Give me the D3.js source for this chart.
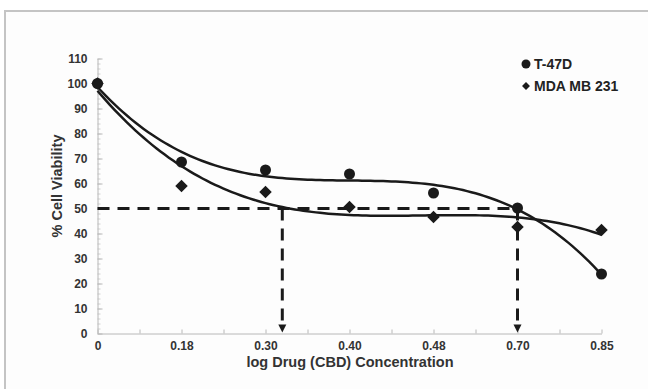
<!DOCTYPE html>
<html>
<head>
<meta charset="utf-8">
<script src="https://cdn.jsdelivr.net/npm/d3@7"></script>
<style>
  body { margin: 0; background: #fff; }
  text { font-family: Arial, "Liberation Sans", sans-serif; font-weight: bold; }
</style>
</head>
<body>
<div id="chart"></div>
<script>
// Categories (x tick labels) and series values
var concLabels = ["0", "0.18", "0.30", "0.40", "0.48", "0.70", "0.85"];
var t47dValues = [100, 68.6, 65.4, 63.8, 56.2, 50.2, 23.8];
var mdaValues = [100, 59, 56.6, 50.6, 46.6, 42.6, 41.4];
var yTicks = [0, 10, 20, 30, 40, 50, 60, 70, 80, 90, 100, 110];
// IC50 guide: 50% level, drops at x (in category index units)
var ic50Level = 50;
var ic50Drops = [2.2, 5.0];

var svgWidth = 648;
var svgHeight = 389;

var svg = d3.select("#chart")
  .append("svg")
  .attr("width", svgWidth)
  .attr("height", svgHeight);

// frame
svg.append("rect")
  .attr("x", 5).attr("y", 11)
  .attr("width", 700).attr("height", 400)
  .attr("fill", "#fdfdfd")
  .attr("stroke", "#c4c4c4")
  .attr("stroke-width", 2);

// scales: x uses category index (Excel style)
var xScale = d3.scaleLinear()
  .domain([0, concLabels.length - 1])
  .range([97.5, 601.5]);

var yScale = d3.scaleLinear()
  .domain([0, 110])
  .range([333.5, 58.5]);

var axisColor = "#b8b8b8";

// x axis
var xAxis = svg.append("g")
  .attr("transform", `translate(0, ${yScale(0)})`)
  .call(d3.axisBottom(xScale)
    .tickValues(d3.range(0, concLabels.length - 0.5, 0.5))
    .tickSizeInner(-4).tickSizeOuter(0)
    .tickFormat(d => Number.isInteger(d) ? concLabels[d] : ""));
xAxis.select(".domain").attr("stroke", axisColor);
xAxis.selectAll(".tick line").attr("stroke", axisColor);
xAxis.selectAll(".tick text")
  .attr("y", 8)
  .attr("font-size", 12)
  .attr("fill", "#333");

// y axis minor ticks
var yMinor = svg.append("g")
  .attr("transform", `translate(${xScale(0)}, 0)`)
  .call(d3.axisLeft(yScale).tickValues(d3.range(0, 111, 2)).tickSize(-3).tickFormat(""));
yMinor.select(".domain").remove();
yMinor.selectAll(".tick line").attr("stroke", "#d0d0d0");

// y axis
var yAxis = svg.append("g")
  .attr("transform", `translate(${xScale(0)}, 0)`)
  .call(d3.axisLeft(yScale).tickValues(yTicks).tickSizeInner(-5).tickSizeOuter(0));
yAxis.select(".domain").attr("stroke", axisColor);
yAxis.selectAll(".tick line").attr("stroke", axisColor);
yAxis.selectAll(".tick text")
  .attr("x", -10)
  .attr("font-size", 12)
  .attr("fill", "#333");

// axis titles
svg.append("text")
  .attr("x", 350).attr("y", 367)
  .attr("text-anchor", "middle")
  .attr("font-size", 14.5)
  .attr("fill", "#333")
  .text("log Drug (CBD) Concentration");

svg.append("text")
  .attr("transform", "translate(62, 186) rotate(-90)")
  .attr("text-anchor", "middle")
  .attr("font-size", 14.5)
  .attr("fill", "#333")
  .text("% Cell Viability");

// cubic least-squares trendline from the data points
function polyFit(ys, order) {
  var n = order + 1;
  var A = [], b = [];
  for (var i = 0; i < n; i++) {
    A.push(new Array(n).fill(0));
    b.push(0);
  }
  ys.forEach(function(y, x) {
    for (var i = 0; i < n; i++) {
      b[i] += y * Math.pow(x, i);
      for (var j = 0; j < n; j++) A[i][j] += Math.pow(x, i + j);
    }
  });
  // gaussian elimination
  for (var c = 0; c < n; c++) {
    var p = c;
    for (var r = c + 1; r < n; r++) if (Math.abs(A[r][c]) > Math.abs(A[p][c])) p = r;
    [A[c], A[p]] = [A[p], A[c]];
    [b[c], b[p]] = [b[p], b[c]];
    for (var r = c + 1; r < n; r++) {
      var f = A[r][c] / A[c][c];
      for (var k = c; k < n; k++) A[r][k] -= f * A[c][k];
      b[r] -= f * b[c];
    }
  }
  var coef = new Array(n).fill(0);
  for (var i = n - 1; i >= 0; i--) {
    var s = b[i];
    for (var k = i + 1; k < n; k++) s -= A[i][k] * coef[k];
    coef[i] = s / A[i][i];
  }
  return function(x) {
    return coef.reduce((acc, c, i) => acc + c * Math.pow(x, i), 0);
  };
}

var line = d3.line()
  .x(d => xScale(d[0]))
  .y(d => yScale(d[1]));

[t47dValues, mdaValues].forEach(function(vals) {
  var f = polyFit(vals, 3);
  var pts = d3.range(0, concLabels.length - 1 + 0.001, 0.05).map(x => [x, f(x)]);
  svg.append("path")
    .datum(pts)
    .attr("d", line)
    .attr("fill", "none")
    .attr("stroke", "#1a1a1a")
    .attr("stroke-width", 2.5);
});

// IC50 dashed guides
svg.append("line")
  .attr("x1", xScale(0)).attr("x2", xScale(d3.max(ic50Drops)))
  .attr("y1", yScale(ic50Level)).attr("y2", yScale(ic50Level))
  .attr("stroke", "#1a1a1a")
  .attr("stroke-width", 3)
  .attr("stroke-dasharray", "12,8");

ic50Drops.forEach(function(xv) {
  var cx = xScale(xv);
  svg.append("line")
    .attr("x1", cx).attr("x2", cx)
    .attr("y1", yScale(ic50Level)).attr("y2", yScale(4))
    .attr("stroke", "#1a1a1a")
    .attr("stroke-width", 3)
    .attr("stroke-dasharray", "12,8");
  var tipY = yScale(0) - 1;
  svg.append("path")
    .attr("d", `M${cx - 4},${tipY - 8}L${cx + 4},${tipY - 8}L${cx},${tipY}Z`)
    .attr("fill", "#1a1a1a");
});

// markers
svg.selectAll(".dot")
  .data(t47dValues)
  .enter().append("circle")
  .attr("cx", (d, i) => xScale(i))
  .attr("cy", d => yScale(d))
  .attr("r", 5.5)
  .attr("fill", "#1a1a1a");

var diamond = d3.symbol().type(d3.symbolDiamond2).size(100);
svg.selectAll(".dia")
  .data(mdaValues)
  .enter().append("path")
  .attr("d", diamond)
  .attr("transform", (d, i) => `translate(${xScale(i)}, ${yScale(d)})`)
  .attr("fill", "#1a1a1a");

// legend
svg.append("circle")
  .attr("cx", 526).attr("cy", 64).attr("r", 4.5)
  .attr("fill", "#1a1a1a");
svg.append("text")
  .attr("x", 534).attr("y", 69)
  .attr("font-size", 14)
  .attr("fill", "#222")
  .text("T-47D");

svg.append("path")
  .attr("d", d3.symbol().type(d3.symbolDiamond2).size(40))
  .attr("transform", "translate(526, 86)")
  .attr("fill", "#1a1a1a");
svg.append("text")
  .attr("x", 534).attr("y", 91)
  .attr("font-size", 14)
  .attr("fill", "#222")
  .text("MDA MB 231");
</script>
</body>
</html>
